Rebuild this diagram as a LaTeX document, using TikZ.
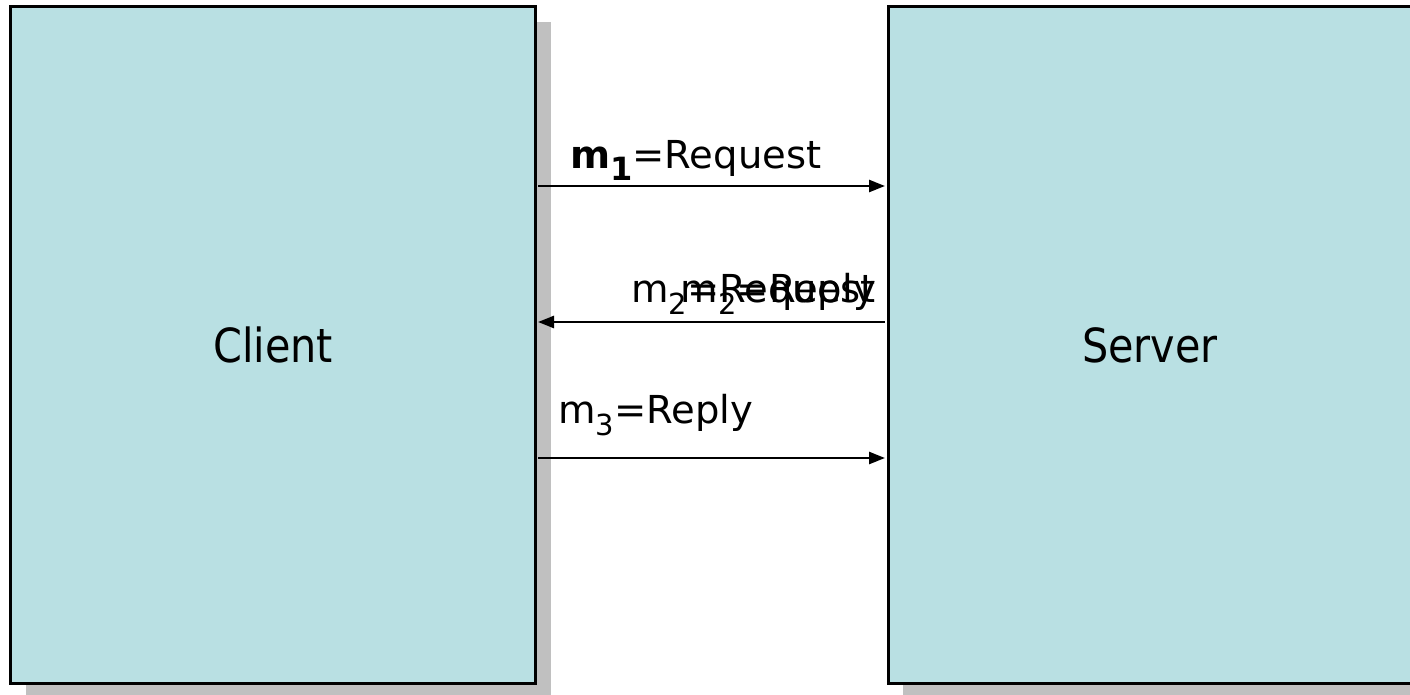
\documentclass[tikz,border=0pt]{standalone}
\usepackage{fontspec}
\setmainfont{DejaVu Sans}
\newfontfamily\boxfont{DejaVu Sans}[FakeStretch=0.88]
\usetikzlibrary{arrows.meta}
\definecolor{boxfill}{RGB}{185,224,227}
\definecolor{shadowgray}{RGB}{192,192,192}
% lowered, smaller index digit after a message name
\newcommand{\idx}[2][29bp]{\raisebox{-12bp}{\fontsize{#1}{#1}\selectfont #2}}
\begin{document}
\begin{tikzpicture}[x=1bp,y=-1bp,
  party/.style={draw=black, line width=3bp, fill=boxfill,
    minimum width=524bp, minimum height=676bp, inner sep=0pt,
    font=\boxfont\fontsize{47bp}{50bp}\selectfont},
  dropshadow/.style={fill=shadowgray},
  msg/.style={line width=2.5bp, shorten >=1.5bp, shorten <=1.5bp,
    -{Triangle[length=16bp,width=12bp]}},
  lbl/.style={inner sep=0pt, font=\fontsize{38.5bp}{40bp}\selectfont},
]
\useasboundingbox (0,0) rectangle (1410,695);
\fill[white] (0,0) rectangle (1410,695);

% drop shadows behind the two parties
\fill[dropshadow] (26,22) rectangle (551,700);
\fill[dropshadow] (903,22) rectangle (1430,700);

% the two parties
\node[party] (client) at (273,345) {Client};
\node[party] (server) at (1150,345) {Server};

% heights of the three messages
\coordinate (y1) at (0,186);
\coordinate (y2) at (0,322);
\coordinate (y3) at (0,458);

% messages
\draw[msg] (client.east |- y1) -- (server.west |- y1);
\draw[msg] (server.west |- y2) -- (client.east |- y2);
\draw[msg] (client.east |- y3) -- (server.west |- y3);

% message labels
\node[lbl, anchor=base west] (l1) at (570,168) {\textbf{m\idx[32bp]{1}}=Request};
\node[lbl, anchor=base east] (l2a) at (876,302) {m\idx{2}=Request};
\node[lbl, anchor=base east] (l2b) at (876,302) {m\idx{2}=Reply};
\node[lbl, anchor=base west] (l3) at (558,423) {m\idx{3}=Reply};
\end{tikzpicture}
\end{document}
